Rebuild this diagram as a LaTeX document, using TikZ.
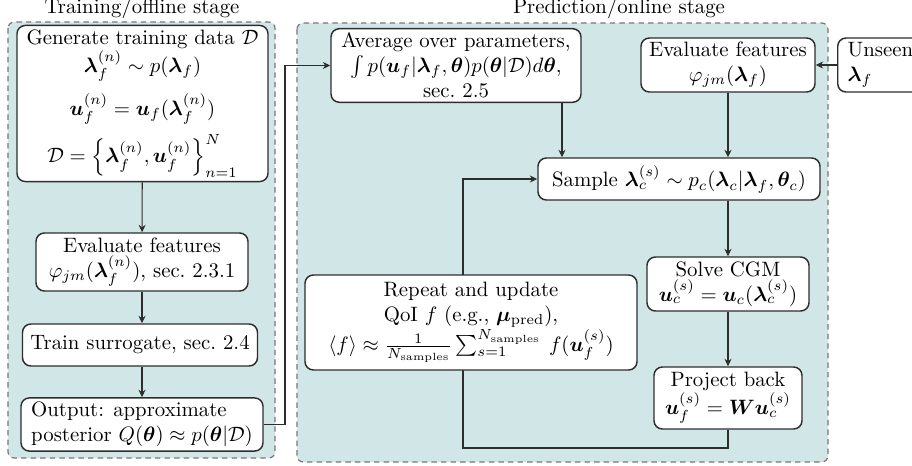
\documentclass[tikz,border=0pt]{standalone}
\usepackage{amsmath,bm}
\usetikzlibrary{arrows.meta}
\pgfdeclarelayer{bg}
\pgfdeclarelayer{lines}
\pgfsetlayers{bg,lines,main}
\definecolor{stagefill}{RGB}{209,230,231}
\definecolor{stageline}{RGB}{120,120,120}
\definecolor{boxline}{RGB}{45,45,45}
\tikzset{
  bx/.style 2 args={minimum width=#1*0.4808pt, minimum height=#2*0.4808pt},
  procbox/.style={draw=boxline, line width=0.7pt, fill=white, rounded corners=4pt, align=center, inner sep=2pt},
  stagebox/.style={draw=stageline, fill=stagefill, line width=0.6pt, dash pattern=on 2.6pt off 2pt, rounded corners=3pt},
  conn/.style={draw=boxline, line width=0.5pt},
  arr/.style={conn, -{Stealth[length=3.6pt, width=3.4pt, inset=1.2pt]}},
  ttl/.style={anchor=base}
}
\begin{document}
\begin{tikzpicture}[x=0.4808pt, y=-0.4808pt]
\useasboundingbox (0,0) rectangle (912,466);

% stages
\begin{pgfonlayer}{bg}
  \draw[stagebox] (8,22) rectangle (275,458);
  \draw[stagebox] (297,23) rectangle (828,462);
\end{pgfonlayer}
\node[ttl] (t1) at (142,13.3) {Training/offline stage};
\node[ttl] (t2) at (619,13.3) {Prediction/online stage};

% training nodes
\node[procbox, bx={251}{149}] (gen) at (142.5,103.5) {Generate training data $\mathcal{D}$\\
  $\bm{\lambda}_f^{(n)}\sim p(\bm{\lambda}_f)$\\[5pt]
  $\bm{u}_f^{(n)}=\bm{u}_f(\bm{\lambda}_f^{(n)})$\\[3.5pt]
  $\mathcal{D}=\left\{\bm{\lambda}_f^{(n)},\bm{u}_f^{(n)}\right\}_{n=1}^{N}$};
\node[procbox, bx={212}{58}] (evl) at (142,262) {Evaluate features\\ $\varphi_{jm}(\bm{\lambda}_f^{(n)})$, sec.~2.3.1};
\node[procbox, bx={235}{42}] (trn) at (140,345) {Train surrogate, sec.~2.4};
\node[procbox, bx={242}{53}, align=left] (out) at (142,424.5) {Output: approximate\\ posterior $Q(\bm{\theta})\approx p(\bm{\theta}|\mathcal{D})$};

% prediction nodes
\node[procbox, bx={250}{69}] (avg) at (456,65.5) {Average over parameters,\\ $\int p(\bm{u}_f|\bm{\lambda}_f,\bm{\theta})p(\bm{\theta}|\mathcal{D})d\bm{\theta}$,\\ sec.~2.5};
\node[procbox, bx={174}{54}] (efr) at (728,65) {Evaluate features\\ $\varphi_{jm}(\bm{\lambda}_f)$};
\node[procbox, align=left, anchor=west, minimum height=54*0.4808pt, inner xsep=4.8pt] (uns) at (837,65) {Unseen\\ $\bm{\lambda}_f$};
\node[procbox, bx={282}{42}] (smp) at (679,179) {Sample $\bm{\lambda}_c^{(s)}\sim p_c(\bm{\lambda}_c|\bm{\lambda}_f,\bm{\theta}_c)$};
\node[procbox, bx={162}{54}] (slv) at (728,284) {Solve CGM\\ $\bm{u}_c^{(s)}=\bm{u}_c(\bm{\lambda}_c^{(s)})$};
\node[procbox, bx={148}{62}] (prj) at (728,398) {Project back\\ $\bm{u}_f^{(s)}=\bm{W}\bm{u}_c^{(s)}$};
\node[procbox, bx={332}{95}] (rep) at (471,322.5) {Repeat and update\\ QoI $f$ (e.g., $\bm{\mu}_{\text{pred}}$),\\ $\langle f\rangle\approx\frac{1}{N_{\text{samples}}}\sum_{s=1}^{N_{\text{samples}}}\: f(\bm{u}_f^{(s)})$};

% helper coordinates
\coordinate (k) at (285,65.5);
\coordinate (a1) at (562,0);
\coordinate (b) at (463,448);

% connectors
\draw[arr] (gen) -- (evl);
\draw[arr] (evl) -- (trn.north -| evl.south);
\draw[arr] (trn.south -| out.north) -- (out);
\draw[arr] (out.east) -| (k) -- (avg.west);
\draw[arr] (uns.west) -- (uns.west -| efr.east);
\draw[arr] (efr.south) -- (efr.south |- smp.north);
\draw[arr] (avg.south -| a1) -- (a1 |- smp.north);
\draw[arr] (slv.north |- smp.south) -- (slv.north);
\draw[arr] (slv) -- (prj);
\begin{pgfonlayer}{lines}
  \draw[arr] (prj.south) |- (b) -- (b |- smp.west) -- (smp.west);
\end{pgfonlayer}
\end{tikzpicture}
\end{document}
